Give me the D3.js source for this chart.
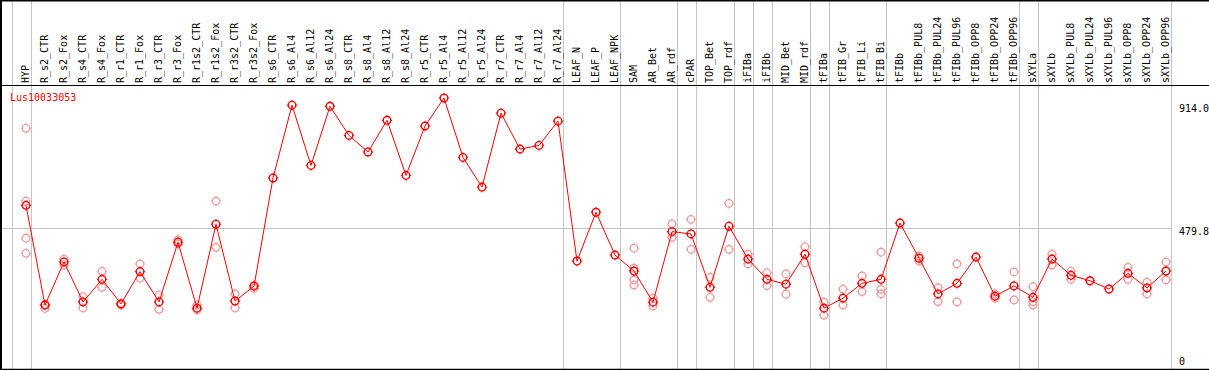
<!DOCTYPE html>
<html><head><meta charset="utf-8">
<script src="https://cdn.jsdelivr.net/npm/d3@7"></script>
<style>
body{margin:0;background:#fff;}
svg{display:block;}
text{font-family:"DejaVu Sans Mono",monospace;font-size:10px;}
</style></head>
<body>
<script>
const title = "Lus10033053";
const categories = ["HYP","R_s2_CTR","R_s2_Fox","R_s4_CTR","R_s4_Fox","R_r1_CTR","R_r1_Fox","R_r3_CTR","R_r3_Fox","R_r1s2_CTR","R_r1s2_Fox","R_r3s2_CTR","R_r3s2_Fox","R_s6_CTR","R_s6_Al4","R_s6_Al12","R_s6_Al24","R_s8_CTR","R_s8_Al4","R_s8_Al12","R_s8_Al24","R_r5_CTR","R_r5_Al4","R_r5_Al12","R_r5_Al24","R_r7_CTR","R_r7_Al4","R_r7_Al12","R_r7_Al24","LEAF_N","LEAF_P","LEAF_NPK","SAM","AR_Bet","AR_rdf","cPAR","TOP_Bet","TOP_rdf","iFIBa","iFIBb","MID_Bet","MID_rdf","tFIBa","tFIB_Gr","tFIB_Li","tFIB_Bi","tFIBb","tFIBb_PUL8","tFIBb_PUL24","tFIBb_PUL96","tFIBb_OPP8","tFIBb_OPP24","tFIBb_OPP96","sXYLa","sXYLb","sXYLb_PUL8","sXYLb_PUL24","sXYLb_PUL96","sXYLb_OPP8","sXYLb_OPP24","sXYLb_OPP96"];
const means = [559,210,361,221,300,214,327,221,430,199,493,224,276,655,910,699,906,804,746,857,664,837,935,727,623,882,756,769,854,364,535,385,329,220,467,459,272,486,371,300,283,388,199,234,286,300,497,374,249,286,378,241,277,237,371,314,295,266,321,270,329];
const reps = [[829,574,444,391],[212,198],[371,350],[239,200],[328,272],[216,210],[354,304],[245,195],[438,424],[210,193],[574,412],[249,200],[280,268],[],[],[],[],[],[],[],[],[],[],[],[],[],[],[],[],[],[],[],[409,339,298,280],[234,207],[494,447],[510,405],[307,237],[566,405],[388,354],[323,278],[319,248],[414,358],[220,175],[266,210],[312,257],[395,265,249],[],[382,364],[271,222],[354,221],[],[249,234],[326,228],[274,222,210],[388,350],[329,300],[],[],[342,300],[290,249],[361,298]];
const groupEnds = ["HYP","R_r7_Al24","LEAF_NPK","AR_rdf","cPAR","TOP_rdf","iFIBa","iFIBb","MID_rdf","tFIBa","tFIB_Bi","tFIBb_OPP96","sXYLa","sXYLb_OPP96"];
const tickValues = [0, 479.8, 914.0];
const tickLabels = ["0","479.8","914.0"];
const refLine = 479.8;

const W = 1209, H = 370;
const svg = d3.select("body").append("svg").attr("width", W).attr("height", H);

const x = d3.scalePoint().domain(categories).range([26, 26 + 19 * (categories.length - 1)]);
const step = x.step();
const y = d3.scaleLinear().domain([0, 914]).range([365, 104]);
const xRight = x(categories[categories.length - 1]) + 4.5;

// group separators
const sepX = [x(categories[0]) - step + 4.5].concat(groupEnds.map(c => x(c) + 4.5));
svg.append("g").selectAll("line").data(sepX).join("line")
  .attr("x1", d => Math.round(d) + 0.5).attr("x2", d => Math.round(d) + 0.5)
  .attr("y1", 0).attr("y2", H)
  .attr("stroke", "#c4c4c4").attr("stroke-width", 1);

// reference horizontal line
svg.append("line")
  .attr("x1", 1).attr("x2", Math.round(xRight) + 0.5)
  .attr("y1", Math.round(y(refLine)) + 0.5).attr("y2", Math.round(y(refLine)) + 0.5)
  .attr("stroke", "#c4c4c4");

// borders
svg.append("line").attr("x1", 0).attr("x2", W).attr("y1", 0.5).attr("y2", 0.5).attr("stroke", "#000").attr("stroke-width", 2);
svg.append("line").attr("x1", 0).attr("x2", W).attr("y1", 85.5).attr("y2", 85.5).attr("stroke", "#000").attr("stroke-width", 1.2);
svg.append("line").attr("x1", 0).attr("x2", W).attr("y1", 369.5).attr("y2", 369.5).attr("stroke", "#000").attr("stroke-width", 1.5);
svg.append("line").attr("x1", 1).attr("x2", 1).attr("y1", 0).attr("y2", H).attr("stroke", "#000").attr("stroke-width", 2);

// category labels (rotated)
svg.append("g").selectAll("text").data(categories).join("text")
  .attr("transform", d => `translate(${x(d) + 3},83) rotate(-90)`)
  .attr("text-anchor", "start")
  .attr("fill", "#000")
  .text(d => d);

// right axis labels
svg.append("g").selectAll("text").data(tickValues).join("text")
  .attr("x", 1179)
  .attr("y", (d, i) => d === 0 ? y(d) : y(d) + 7.5)
  .attr("fill", "#000")
  .text((d, i) => tickLabels[i]);

// title
svg.append("text").attr("x", 10).attr("y", 101).attr("fill", "#ff0000").text(title);

// marker: circle with small cardinal ticks
function drawMarkers(g, data, color, sw) {
  const m = g.selectAll("g").data(data).join("g")
    .attr("transform", d => `translate(${d[0]},${d[1]})`)
    .attr("stroke", color).attr("fill", "none").attr("stroke-width", sw);
  m.append("circle").attr("r", 3.8);
  m.append("path").attr("d", "M0,-3.8V-5.2M0,3.8V5.2M-3.8,0H-5.2M3.8,0H5.2").attr("stroke-width", 1);
}

// replicate points
const repPts = [];
categories.forEach((c, i) => reps[i].forEach(v => repPts.push([x(c), y(v)])));
drawMarkers(svg.append("g"), repPts, "#f29a9a", 1.2);

// mean line
const line = d3.line().x((d, i) => x(categories[i])).y(d => y(d));
svg.append("path").datum(means).attr("d", line)
  .attr("fill", "none").attr("stroke", "#ff0000").attr("stroke-width", 1);

// mean markers
drawMarkers(svg.append("g"), means.map((d, i) => [x(categories[i]), y(d)]), "#ff0000", 1.4);
</script>
</body></html>
